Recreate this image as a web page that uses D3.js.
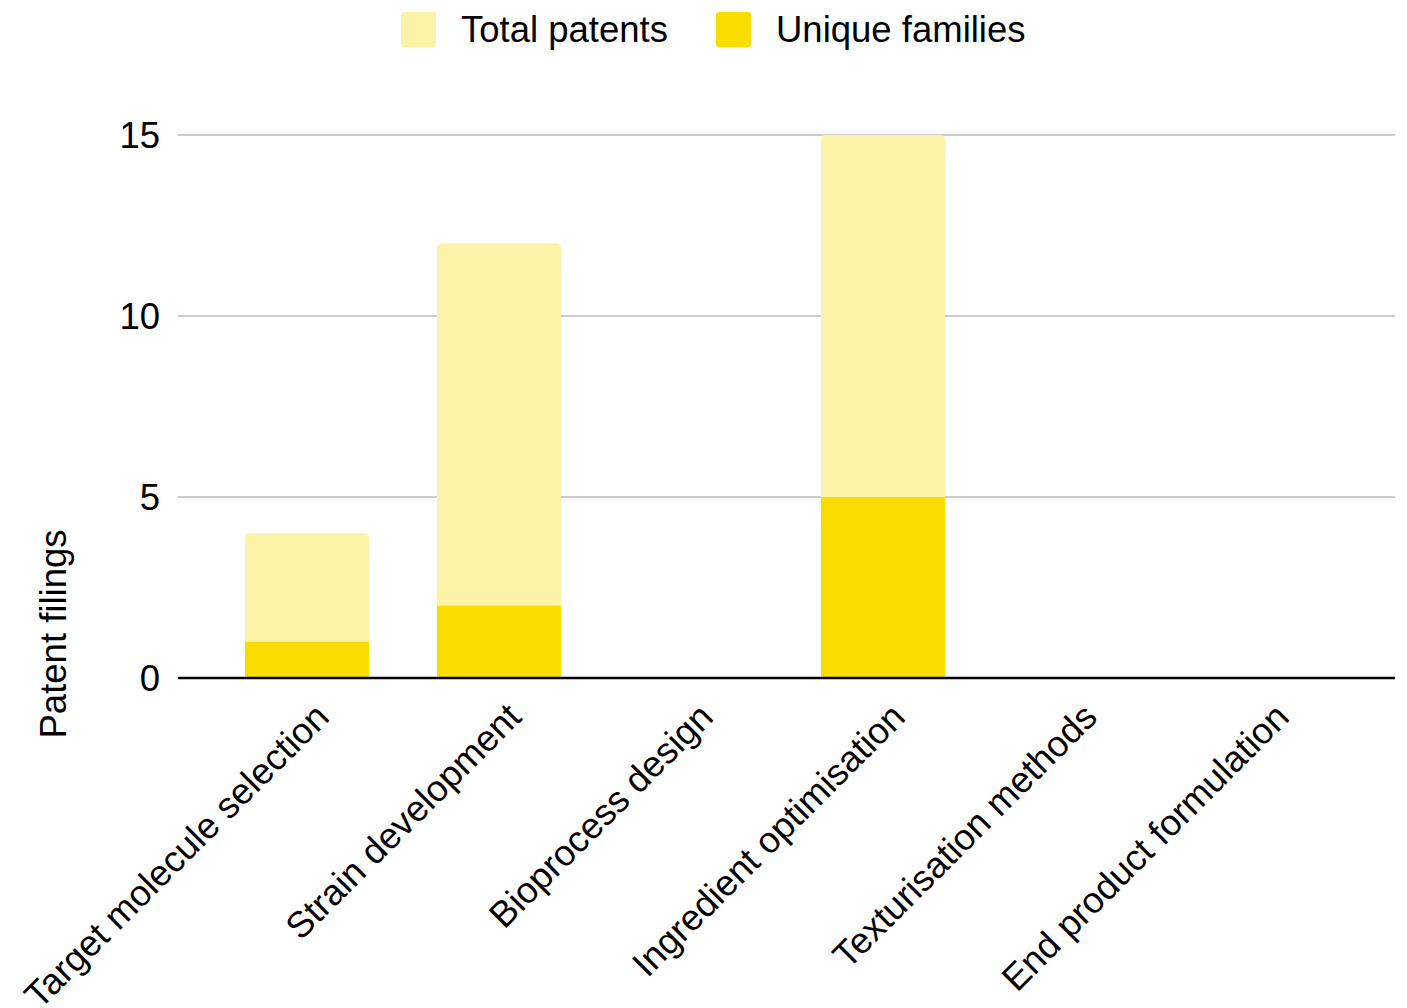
<!DOCTYPE html>
<html>
<head>
<meta charset="utf-8">
<script src="https://cdn.jsdelivr.net/npm/d3@7"></script>
<style>
  html, body { margin: 0; padding: 0; background: #fff; }
  svg { display: block; font-family: "Liberation Sans", Arial, sans-serif; }
</style>
</head>
<body>
<svg id="chart" width="1407" height="1008"></svg>
<script>
// Patent filings by technology area
const categories = [
  "Target molecule selection",
  "Strain development",
  "Bioprocess design",
  "Ingredient optimisation",
  "Texturisation methods",
  "End product formulation"
];
const totalPatents   = [4, 12, 0, 15, 0, 0];
const uniqueFamilies = [1, 2, 0, 5, 0, 0];
const yTicks = [0, 5, 10, 15];
const seriesNames = ["Total patents", "Unique families"];
const seriesColors = ["#fcf3a7", "#f9dd00"];

const svg = d3.select("#chart");
const fontSize = 36.5;

const plot = { left: 178, right: 1395, top: 135, bottom: 678 };

const x = d3.scaleBand()
  .domain(categories)
  .range([211, 1363])
  .paddingInner(0.354)
  .paddingOuter(0.177);

const y = d3.scaleLinear()
  .domain([0, 15])
  .range([plot.bottom, plot.top]);

// Gridlines
svg.append("g")
  .selectAll("line")
  .data(yTicks.filter(d => d !== 0))
  .join("line")
  .attr("x1", plot.left).attr("x2", plot.right)
  .attr("y1", d => y(d)).attr("y2", d => y(d))
  .attr("stroke", "#cccccc")
  .attr("stroke-width", 2);

// Y tick labels
svg.append("g")
  .selectAll("text")
  .data(yTicks)
  .join("text")
  .attr("x", 160)
  .attr("y", d => y(d))
  .attr("dy", "0.36em")
  .attr("text-anchor", "end")
  .attr("font-size", fontSize)
  .attr("fill", "#000")
  .text(d => d);

// Rounded-top bar path
function topRounded(x0, y0, w, h, r) {
  if (h <= 0) return "";
  r = Math.min(r, h, w / 2);
  return `M${x0},${y0 + h}V${y0 + r}Q${x0},${y0} ${x0 + r},${y0}` +
         `H${x0 + w - r}Q${x0 + w},${y0} ${x0 + w},${y0 + r}V${y0 + h}Z`;
}

// Total patents bars (behind)
svg.append("g")
  .selectAll("path")
  .data(categories.map((c, i) => ({ c, v: totalPatents[i] })))
  .join("path")
  .attr("fill", seriesColors[0])
  .attr("d", d => topRounded(x(d.c), y(d.v), x.bandwidth(), y(0) - y(d.v), 5));

// Unique families bars (front)
svg.append("g")
  .selectAll("rect")
  .data(categories.map((c, i) => ({ c, v: uniqueFamilies[i] })))
  .join("rect")
  .attr("fill", seriesColors[1])
  .attr("x", d => x(d.c))
  .attr("y", d => y(d.v))
  .attr("width", x.bandwidth())
  .attr("height", d => y(0) - y(d.v));

// Baseline
svg.append("line")
  .attr("x1", plot.left).attr("x2", plot.right)
  .attr("y1", y(0)).attr("y2", y(0))
  .attr("stroke", "#000")
  .attr("stroke-width", 2.5);

// Category labels, rotated
svg.append("g")
  .selectAll("text")
  .data(categories)
  .join("text")
  .attr("text-anchor", "end")
  .attr("font-size", fontSize)
  .attr("fill", "#000")
  .attr("transform", d => `translate(${x(d) + x.bandwidth() / 2 + 6},${701}) rotate(-45)`)
  .attr("dy", "0.7em")
  .text(d => d);

// Y axis title
svg.append("text")
  .attr("transform", `translate(66,634) rotate(-90)`)
  .attr("text-anchor", "middle")
  .attr("font-size", fontSize)
  .attr("fill", "#000")
  .text("Patent filings");

// Legend
const legend = svg.append("g");
const legendItems = [
  { name: seriesNames[0], color: seriesColors[0], x: 401, tx: 461 },
  { name: seriesNames[1], color: seriesColors[1], x: 716, tx: 776 }
];
legend.selectAll("rect")
  .data(legendItems)
  .join("rect")
  .attr("x", d => d.x).attr("y", 12)
  .attr("width", 35).attr("height", 35)
  .attr("rx", 3)
  .attr("fill", d => d.color);
legend.selectAll("text")
  .data(legendItems)
  .join("text")
  .attr("x", d => d.tx).attr("y", 42)
  .attr("font-size", fontSize)
  .attr("fill", "#000")
  .text(d => d.name);
</script>
</body>
</html>
